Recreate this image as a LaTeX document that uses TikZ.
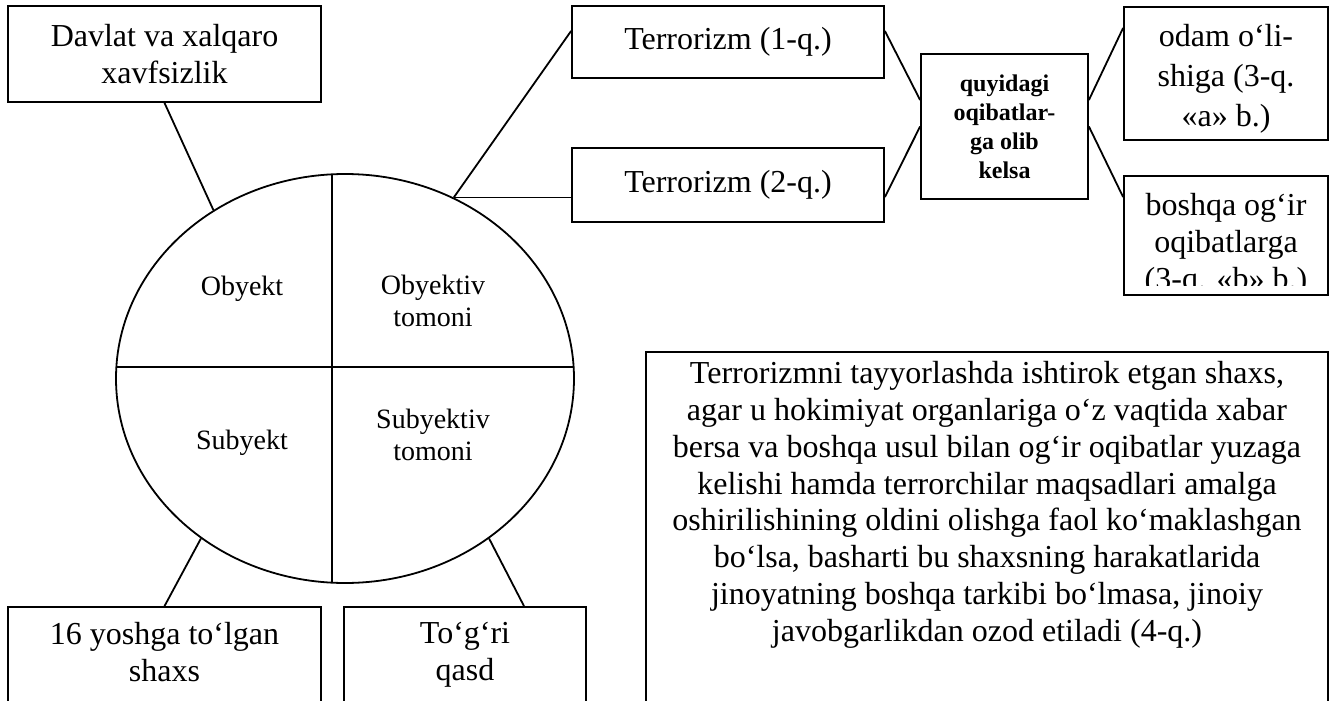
\documentclass[tikz,border=0pt]{standalone}
\usepackage{fontspec}
\setmainfont{Liberation Serif}
\usetikzlibrary{shapes.geometric,positioning}

\tikzset{
  chiziq/.style={line width=0.9pt},
  quti/.style={draw, chiziq, rectangle, inner sep=0pt, align=center, font=\fontsize{16}{18.4}\selectfont},
  qalin/.style={quti, font=\fontsize{12}{14.5}\selectfont\bfseries},
  matn/.style={inner sep=0pt, align=center, font=\fontsize{16}{18.4}\selectfont},
  chorak/.style={inner sep=0pt, align=center, font=\fontsize{14}{16}\selectfont}
}

\begin{document}
\begin{tikzpicture}[x=0.5pt, y=-0.5pt]
        % Page frame
        \useasboundingbox (0,0) rectangle (1333,701);
        \clip (0,0) rectangle (1333,701);

        % Central ellipse split into four parts
        \node[draw, chiziq, ellipse, inner sep=0pt, minimum width=229pt, minimum height=204.5pt] (doira) at (345,378.5) {};
        \begin{scope}
            \clip (doira.center) ellipse [x radius=114.5pt, y radius=102.25pt];
            \draw[chiziq] (332,150) -- (332,600);
            \draw[chiziq] (100,367) -- (600,367);
          \end{scope}

        % Labels of the four parts
        \foreach \nom/\x/\y/\txt in {obyekt/242/289/Obyekt, obtomon/433/301/{Obyektiv\\tomoni},
            subyekt/242/443/Subyekt, subtomon/433/435/{Subyektiv\\tomoni}}{
            \node[chorak] (\nom) at (\x,\y) {\txt};
          }

        % Boxes on the top
        \node[quti, minimum width=156.5pt, minimum height=48pt] (davlat) at (164.5,54) {Davlat va xalqaro\\xavfsizlik};
        \node[quti, minimum width=156pt, minimum height=36pt] (ter1) at (728,42) {Terrorizm (1-q.)};
        \node[quti, minimum width=156pt, minimum height=37pt] (ter2) at (728,185) {Terrorizm (2-q.)};
        \node[qalin, minimum width=83.5pt, minimum height=72.5pt] (oqibat) at (1004.5,126.5) {quyidagi\\oqibatlar-\\ga olib\\kelsa};
        \node[quti, minimum width=102pt, minimum height=66.5pt] (odam) at (1226,73.5) {};
        \node[matn, font=\fontsize{16}{20}\selectfont, below=9pt of odam.north] (odamtxt) {odam o‘li-\\shiga (3-q.\\«a» b.)};
        \node[quti, minimum width=102pt, minimum height=59.5pt] (boshqa) at (1226,235.5) {};
        \begin{scope}
            % text cut off at the bottom of the box
            \clip (1124,176) rectangle (1328,285);
            \node[matn, below=9pt of boshqa.north] (boshqatxt) {boshqa og‘ir\\oqibatlarga\\(3-q. «b» b.)};
          \end{scope}

        % Boxes on the bottom
        \node[quti, minimum width=156.5pt, minimum height=56.5pt] (yosh) at (164.5,663.5) {};
        \node[matn, below=8pt of yosh.north] (yoshtxt) {16 yoshga to‘lgan\\shaxs};
        \node[quti, minimum width=121pt, minimum height=56.5pt] (qasd) at (465,663.5) {};
        \node[matn, below=8pt of qasd.north] (qasdtxt) {To‘g‘ri\\qasd};

        % Note box
        \node[quti, minimum width=341pt, minimum height=184pt] (izoh) at (987,536) {};
        \node[matn, below=5pt of izoh.north] (izohtxt) {Terrorizmni tayyorlashda ishtirok etgan shaxs,\\
            agar u hokimiyat organlariga o‘z vaqtida xabar\\
            bersa va boshqa usul bilan og‘ir oqibatlar yuzaga\\
            kelishi hamda terrorchilar maqsadlari amalga\\
            oshirilishining oldini olishga faol ko‘maklashgan\\
            bo‘lsa, basharti bu shaxsning harakatlarida\\
            jinoyatning boshqa tarkibi bo‘lmasa, jinoiy\\
            javobgarlikdan ozod etiladi (4-q.)};

        % Connections
        \draw[chiziq] (davlat.south) -- (doira.128);
        \draw[chiziq] (doira.59) -- ([yshift=5.5pt]ter1.west);
        \draw[chiziq] (doira.59) -- (doira.59 -| ter2.west);
        \draw[chiziq] ([yshift=5.5pt]ter1.east) -- ([yshift=13.25pt]oqibat.west);
        \draw[chiziq] ([yshift=-6pt]ter2.east) -- (oqibat.west);
        \draw[chiziq] ([yshift=13.25pt]oqibat.east) -- ([yshift=22.75pt]odam.west);
        \draw[chiziq] (oqibat.east) -- ([yshift=19.25pt]boshqa.west);
        \draw[chiziq] (doira.228) -- (yosh.north);
        \draw[chiziq] (doira.312) -- ([xshift=29.5pt]qasd.north);
      \end{tikzpicture}
\end{document}
